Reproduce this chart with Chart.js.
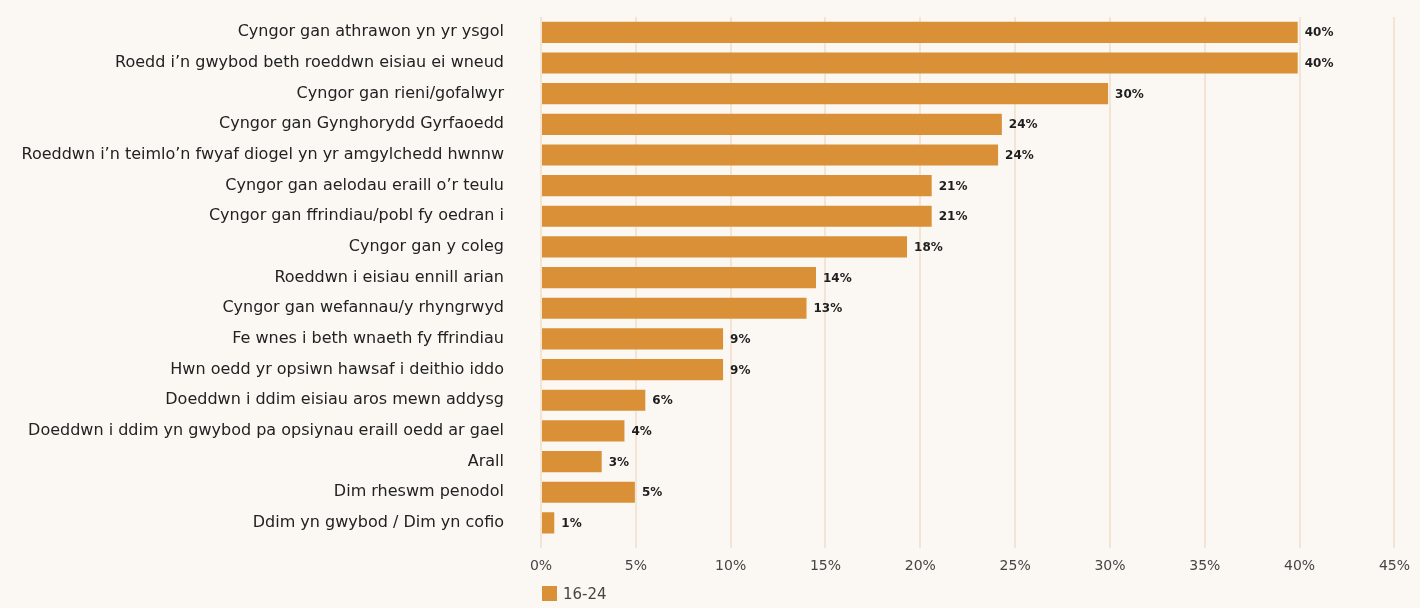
<!DOCTYPE html>
<html>
<head>
<meta charset="utf-8">
<script src="https://cdn.jsdelivr.net/npm/chart.js@4.4.0/dist/chart.umd.min.js"></script>
<style>
  html, body { margin: 0; padding: 0; background: #fbf8f3; }
  #wrap { width: 1420px; height: 608px; position: relative; }
</style>
</head>
<body>
<div id="wrap"><canvas id="canvas"></canvas></div>
<script>
// categories (top to bottom)
var categories = [
  "Cyngor gan athrawon yn yr ysgol",
  "Roedd i\u2019n gwybod beth roeddwn eisiau ei wneud",
  "Cyngor gan rieni/gofalwyr",
  "Cyngor gan Gynghorydd Gyrfaoedd",
  "Roeddwn i\u2019n teimlo\u2019n fwyaf diogel yn yr amgylchedd hwnnw",
  "Cyngor gan aelodau eraill o\u2019r teulu",
  "Cyngor gan ffrindiau/pobl fy oedran i",
  "Cyngor gan y coleg",
  "Roeddwn i eisiau ennill arian",
  "Cyngor gan wefannau/y rhyngrwyd",
  "Fe wnes i beth wnaeth fy ffrindiau",
  "Hwn oedd yr opsiwn hawsaf i deithio iddo",
  "Doeddwn i ddim eisiau aros mewn addysg",
  "Doeddwn i ddim yn gwybod pa opsiynau eraill oedd ar gael",
  "Arall",
  "Dim rheswm penodol",
  "Ddim yn gwybod / Dim yn cofio"
];

// bar lengths as drawn (%)
var values1624 = [39.9, 39.9, 29.9, 24.3, 24.1, 20.6, 20.6, 19.3, 14.5, 14.0, 9.6, 9.6, 5.5, 4.4, 3.2, 4.95, 0.7];

// value labels printed next to bars
var valueLabels = ["40%", "40%", "30%", "24%", "24%", "21%", "21%", "18%", "14%", "13%", "9%", "9%", "6%", "4%", "3%", "5%", "1%"];

var seriesName = "16-24";
var xTicks = [0, 5, 10, 15, 20, 25, 30, 35, 40, 45];

var barColor = "#d99036";
var fontFamily = "'DejaVu Sans', sans-serif";

// draws the % text to the right of each bar
var barLabels = {
  id: "barLabels",
  afterDatasetsDraw: function(chart) {
    var ctx = chart.ctx;
    var meta = chart.getDatasetMeta(0);
    ctx.save();
    ctx.font = "bold 12px " + fontFamily;
    ctx.fillStyle = "#1e1e1e";
    ctx.textAlign = "left";
    ctx.textBaseline = "middle";
    meta.data.forEach(function(bar, i) {
      ctx.fillText(valueLabels[i], bar.x + 7, bar.y + 1);
    });
    ctx.restore();
  }
};

// small legend under the x axis, lined up with the plot's left edge
var bottomLegend = {
  id: "bottomLegend",
  afterDraw: function(chart) {
    var ctx = chart.ctx;
    var ds = chart.data.datasets[0];
    var x = chart.chartArea.left + 1;
    var y = chart.height - 14;
    ctx.save();
    ctx.fillStyle = ds.backgroundColor;
    ctx.fillRect(x, y - 8, 15, 15);
    ctx.fillStyle = "#454545";
    ctx.font = "15px " + fontFamily;
    ctx.textAlign = "left";
    ctx.textBaseline = "middle";
    ctx.fillText(ds.label, x + 21, y + 1);
    ctx.restore();
  }
};

var config = {
  type: "bar",
  data: {
    labels: categories,
    datasets: [
      {
        label: seriesName,
        data: values1624,
        backgroundColor: barColor,
        borderWidth: 0,
        barPercentage: 0.69,
        categoryPercentage: 1
      }
    ]
  },
  options: {
    indexAxis: "y",
    responsive: true,
    maintainAspectRatio: false,
    animation: false,
    layout: { padding: { top: 17, right: 19, left: 0, bottom: 23 } },
    scales: {
      x: {
        min: 0,
        max: 45,
        z: 1,
        afterBuildTicks: function(scale) {
          scale.ticks = xTicks.map(function(v) { return { value: v }; });
        },
        grid: {
          color: "rgba(240,215,190,0.6)",
          lineWidth: 2,
          tickLength: 10,
          drawTicks: true
        },
        border: { display: false },
        ticks: {
          color: "#454545",
          font: { family: fontFamily, size: 14 },
          padding: 10,
          callback: function(v) { return v + "%"; }
        }
      },
      y: {
        // invisible tick marks give the gap between labels and bars
        grid: {
          display: true,
          drawOnChartArea: false,
          drawTicks: true,
          tickLength: 37,
          tickColor: "rgba(0,0,0,0)"
        },
        border: { display: false },
        afterFit: function(scale) { scale.width = 541; },
        ticks: {
          color: "#222",
          font: { family: fontFamily, size: 16 },
          padding: 0
        }
      }
    },
    plugins: {
      legend: { display: false },
      tooltip: { enabled: false }
    }
  },
  plugins: [barLabels, bottomLegend]
};

new Chart(document.getElementById("canvas"), config);
</script>
</body>
</html>
